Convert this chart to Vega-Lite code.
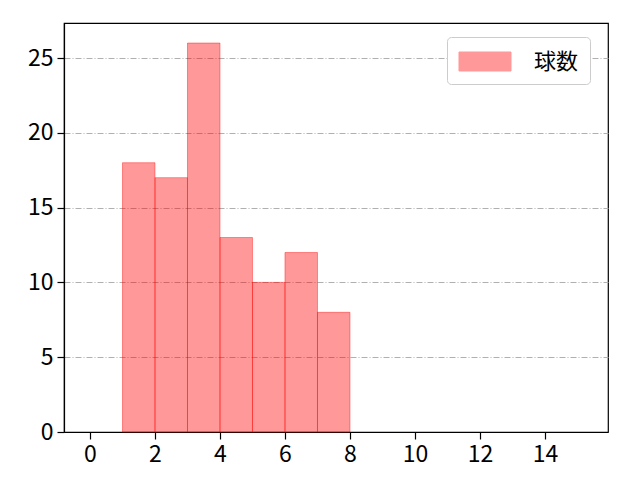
{
  "$schema": "https://vega.github.io/schema/vega-lite/v6.json",
  "width": 544,
  "height": 409,
  "autosize": {"type": "none"},
  "padding": {"left": 64, "top": 23, "right": 32, "bottom": 48},
  "config": {
    "font": "Noto Sans CJK JP",
    "view": {"stroke": "black", "strokeWidth": 1.2},
    "axis": {
      "domainColor": "black",
      "domainWidth": 1.2,
      "tickColor": "black",
      "tickSize": 7,
      "tickWidth": 1.2,
      "labelColor": "black",
      "labelFont": "Noto Sans CJK JP",
      "labelPadding": 4,
      "title": null
    }
  },
  "data": {
    "values": [
      {"start": 1, "end": 2, "count": 18, "series": "球数"},
      {"start": 2, "end": 3, "count": 17, "series": "球数"},
      {"start": 3, "end": 4, "count": 26, "series": "球数"},
      {"start": 4, "end": 5, "count": 13, "series": "球数"},
      {"start": 5, "end": 6, "count": 10, "series": "球数"},
      {"start": 6, "end": 7, "count": 12, "series": "球数"},
      {"start": 7, "end": 8, "count": 8, "series": "球数"}
    ]
  },
  "mark": {
    "type": "bar",
    "fillOpacity": 0.4,
    "stroke": "red",
    "strokeOpacity": 0.4,
    "strokeWidth": 1
  },
  "encoding": {
    "x": {
      "field": "start",
      "type": "quantitative",
      "scale": {"domain": [-0.8, 15.94], "nice": false, "zero": false},
      "axis": {"values": [0, 2, 4, 6, 8, 10, 12, 14], "grid": false, "domain": true, "labelFlush": false, "labelFontSize": 23}
    },
    "x2": {"field": "end"},
    "y": {
      "field": "count",
      "type": "quantitative",
      "scale": {"domain": [0, 27.34], "nice": false},
      "axis": {
        "values": [0, 5, 10, 15, 20, 25],
        "grid": true,
        "gridColor": "#b0b0b0",
        "gridDash": [6, 2, 1, 2],
        "gridWidth": 1,
        "domain": true,
        "labelFlush": false,
        "labelFontSize": 23
      }
    },
    "y2": {"datum": 0},
    "color": {
      "field": "series",
      "type": "nominal",
      "scale": {"range": ["red"]},
      "legend": {
        "title": null,
        "orient": "none",
        "legendX": 383,
        "legendY": 14,
        "symbolType": "M-2,-0.73H2V0.73H-2Z",
        "symbolSize": 676,
        "symbolOffset": 13.5,
        "symbolOpacity": 0.4,
        "symbolStrokeColor": "red",
        "symbolStrokeWidth": 1,
        "labelFontSize": 22,
        "labelColor": "black",
        "labelFont": "Noto Sans CJK JP",
        "labelOffset": 35.5,
        "fillColor": "white",
        "strokeColor": "#cccccc",
        "cornerRadius": 4,
        "padding": 11
      }
    }
  }
}
